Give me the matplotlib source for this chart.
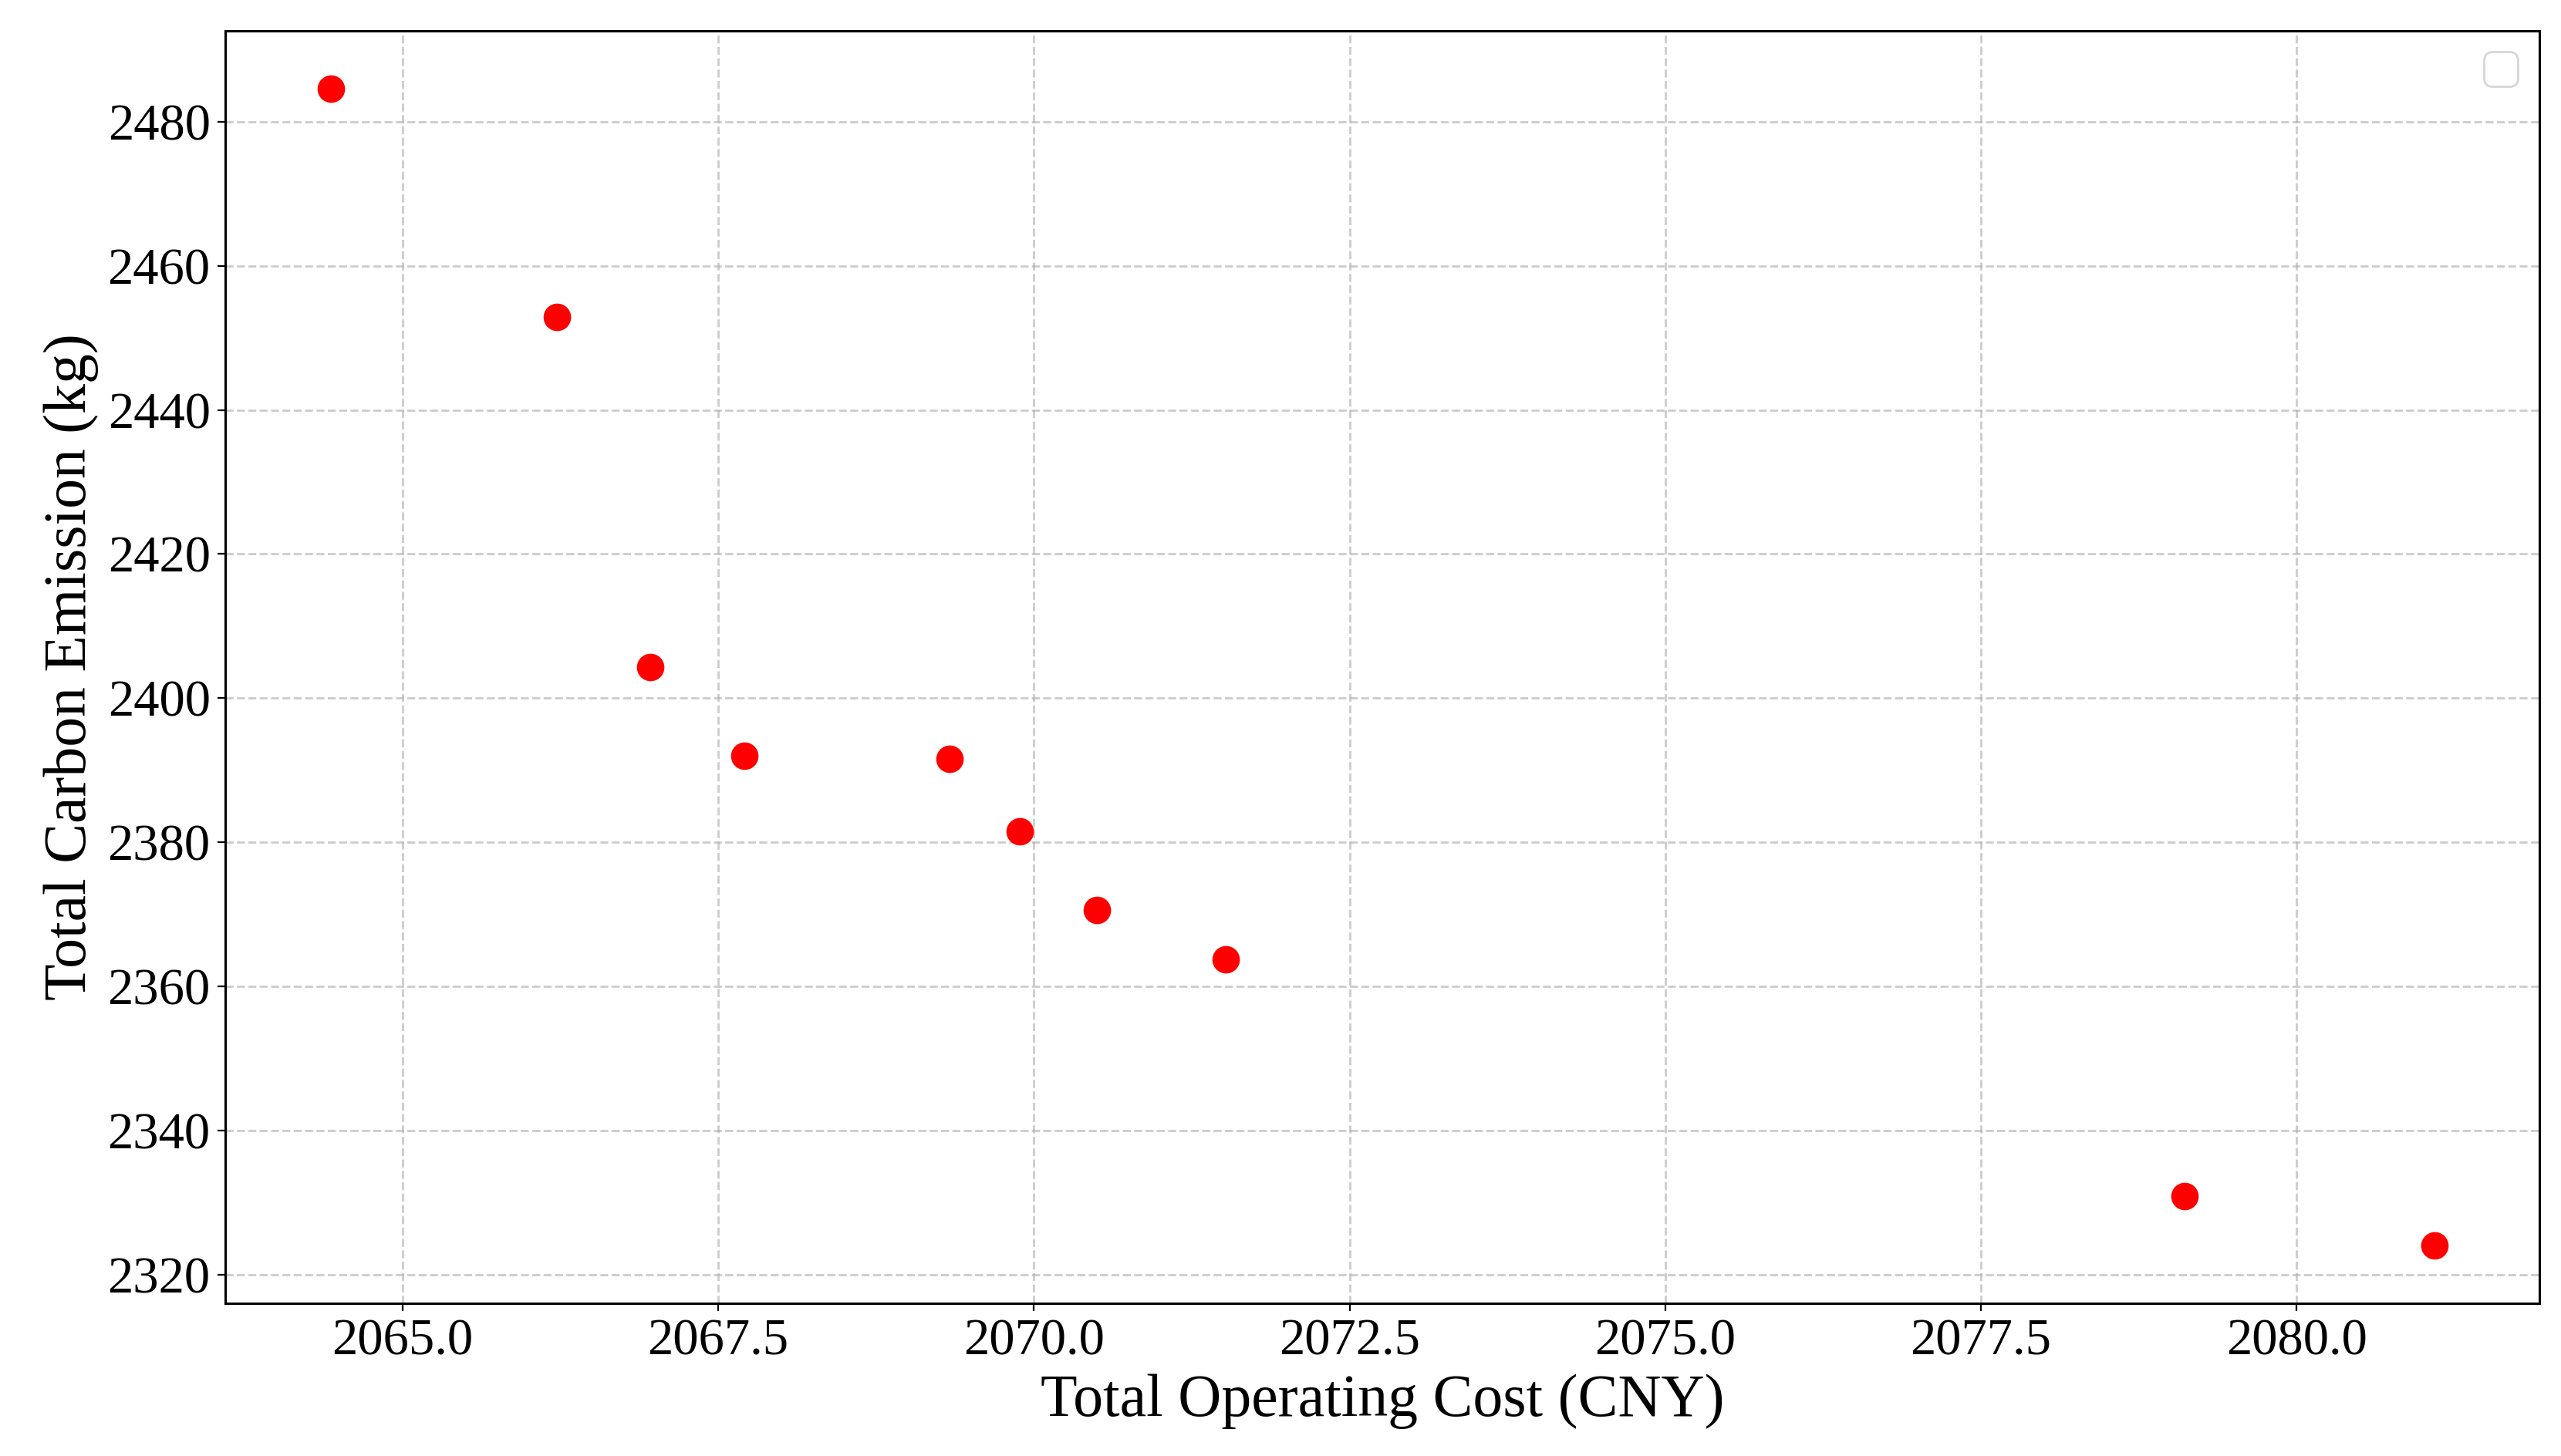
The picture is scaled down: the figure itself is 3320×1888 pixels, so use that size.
import matplotlib
matplotlib.use("Agg")
import matplotlib.pyplot as plt

# Pareto front points
total_cost = [2064.43, 2066.22, 2066.96, 2067.71, 2069.33,
              2069.89, 2070.50, 2071.52, 2079.11, 2081.09]
total_emission = [2484.6, 2452.9, 2404.3, 2392.0, 2391.6,
                  2381.5, 2370.6, 2363.8, 2330.9, 2324.1]

plt.rcParams["font.family"] = ["Liberation Serif", "DejaVu Serif"]
plt.rcParams["mathtext.fontset"] = "stix"

fig = plt.figure(figsize=(16.6, 9.44), dpi=200)
ax = fig.add_axes([0.088, 0.105, 0.9036, 0.874])

ax.scatter(total_cost, total_emission, color="red", s=140, zorder=3)

ax.set_xlabel("Total Operating Cost (CNY)", fontsize=28)
ax.set_ylabel("Total Carbon Emission (kg)", fontsize=28)
ax.tick_params(axis="both", which="major", labelsize=24)
ax.grid(True, linestyle="--", color="#b0b0b0", alpha=0.65, linewidth=1.0)
ax.xaxis.set_major_formatter(matplotlib.ticker.FormatStrFormatter("%.1f"))
for sp in ax.spines.values():
    sp.set_linewidth(1.1)

# empty legend box, as in the original figure
ax.legend(handles=[], loc="upper right", fontsize=20)

fig.savefig("out.png", dpi=200)
